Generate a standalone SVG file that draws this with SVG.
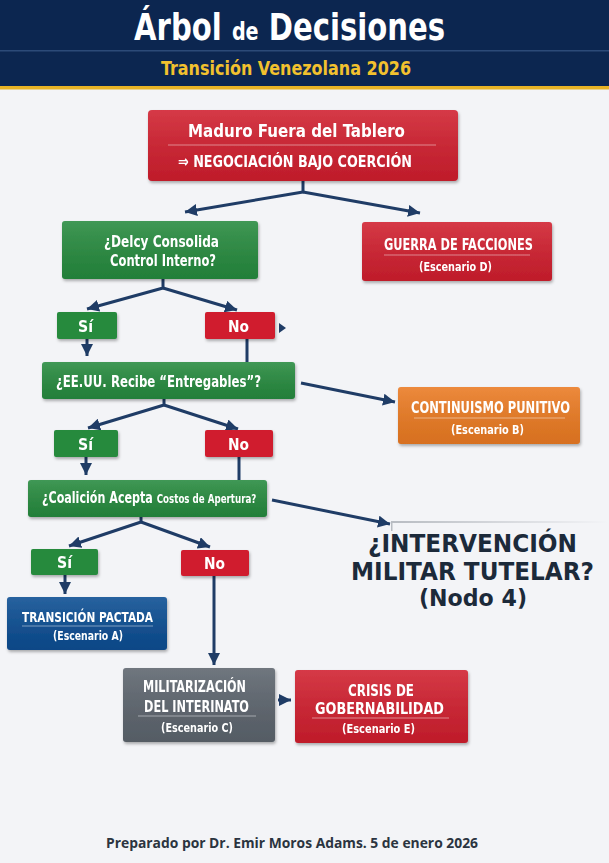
<svg xmlns="http://www.w3.org/2000/svg" width="609" height="863" viewBox="0 0 609 863">
<defs>
<filter id="sh" x="-10%" y="-10%" width="125%" height="135%"><feDropShadow dx="1" dy="2" stdDeviation="1.5" flood-color="#000" flood-opacity="0.3"/></filter>
<marker id="ah" viewBox="0 0 10 10" refX="10" refY="5" markerWidth="4" markerHeight="4" orient="auto" markerUnits="strokeWidth"><path d="M0,0 L10,5 L0,10 Z" fill="#1f3c66"/></marker>
<linearGradient id="fade" x1="0" x2="1" y1="0" y2="0"><stop offset="0" stop-color="#b8bcc2"/><stop offset="1" stop-color="#b8bcc2" stop-opacity="0"/></linearGradient>
<linearGradient id="gloss" x1="0" x2="0" y1="0" y2="1"><stop offset="0" stop-color="#fff" stop-opacity="0.12"/><stop offset="1" stop-color="#000" stop-opacity="0.08"/></linearGradient>
</defs>
<style>
.t{font-family:"DejaVu Sans Condensed","Liberation Sans",sans-serif;font-weight:bold;fill:#fff}
.red{fill:#d01f2e}.grn{fill:#268a3e}.org{fill:#ea7a22}.blu{fill:#0b4d92}.gry{fill:#5c646d}
.sep{stroke:#fff;stroke-opacity:0.45;stroke-width:1}
.c{stroke:#1f3c66;stroke-width:3;fill:none;stroke-linejoin:round}
.n4{font-family:"DejaVu Sans",sans-serif;font-weight:bold;font-size:24px;fill:#1c2a3a}
</style>
<rect width="609" height="863" fill="#f3f4f7"/>
<g id="header">
<rect width="609" height="87" fill="#0c2650"/>
<rect y="50" width="609" height="1.5" fill="#2c4a78"/>
<rect y="86" width="609" height="3.5" fill="#e8b325"/>
<text transform="translate(134,40) scale(0.852,1)" class="t" font-size="38">Árbol <tspan font-size="25">de</tspan> Decisiones</text>
<text x="161" y="75" class="t" font-size="19" textLength="250" lengthAdjust="spacingAndGlyphs" style="fill:#f2c12e">Transición Venezolana 2026</text>
</g>
<g id="connectors">
<path class="c" d="M303,181 V192 L185,212" marker-end="url(#ah)"/>
<path class="c" d="M303,192 L420,213" marker-end="url(#ah)"/>
<path class="c" d="M163,279 V288 L87,309" marker-end="url(#ah)"/>
<path class="c" d="M163,288 L237,310" marker-end="url(#ah)"/>
<path d="M279,323 L286,328 L279,333 Z" fill="#1f3c66"/>
<path class="c" d="M87,339 V356" marker-end="url(#ah)"/>
<path class="c" d="M247,339 V362"/>
<path class="c" d="M301,383 L395,402" marker-end="url(#ah)"/>
<path class="c" d="M164,399 V405 L88,428" marker-end="url(#ah)"/>
<path class="c" d="M164,405 L238,429" marker-end="url(#ah)"/>
<path class="c" d="M86,457 V475" marker-end="url(#ah)"/>
<path class="c" d="M239,457 V480"/>
<path class="c" d="M272,500 L390,524" marker-end="url(#ah)"/>
<path class="c" d="M141,517 V522 L69,546" marker-end="url(#ah)"/>
<path class="c" d="M141,522 L210,547" marker-end="url(#ah)"/>
<path class="c" d="M65,575 V594" marker-end="url(#ah)"/>
<path class="c" d="M214,576 V665" marker-end="url(#ah)"/>
<path class="c" d="M278,700 H291" marker-end="url(#ah)"/>
</g>
<g id="root" filter="url(#sh)">
<rect x="148" y="110" width="310" height="71" rx="4" class="red"/>
<rect x="148" y="110" width="310" height="71" rx="4" fill="url(#gloss)"/>
<line x1="168" y1="145" x2="436" y2="145" class="sep"/>
<text x="188" y="137" class="t" font-size="18" textLength="217" lengthAdjust="spacingAndGlyphs">Maduro Fuera del Tablero</text>
<text x="178" y="167" class="t" font-size="16" textLength="234" lengthAdjust="spacingAndGlyphs">⇒ NEGOCIACIÓN BAJO COERCIÓN</text>
</g>
<g id="delcy" filter="url(#sh)">
<rect x="62" y="221" width="196" height="58" rx="3" class="grn"/>
<rect x="62" y="221" width="196" height="58" rx="3" fill="url(#gloss)"/>
<text x="104" y="247" class="t" font-size="16" textLength="115" lengthAdjust="spacingAndGlyphs">¿Delcy Consolida</text>
<text x="110" y="266" class="t" font-size="16" textLength="106" lengthAdjust="spacingAndGlyphs">Control Interno?</text>
</g>
<g id="guerra" filter="url(#sh)">
<rect x="362" y="222" width="190" height="59" rx="3" class="red"/>
<rect x="362" y="222" width="190" height="59" rx="3" fill="url(#gloss)"/>
<line x1="384" y1="255" x2="530" y2="255" class="sep"/>
<text x="384" y="250" class="t" font-size="15" textLength="149" lengthAdjust="spacingAndGlyphs">GUERRA DE FACCIONES</text>
<text x="419" y="271" class="t" font-size="12.5" textLength="73" lengthAdjust="spacingAndGlyphs">(Escenario D)</text>
</g>
<g id="si1" filter="url(#sh)">
<rect x="57" y="312" width="60" height="27" rx="2" class="grn"/>
<text x="78" y="332" class="t" font-size="16" textLength="15" lengthAdjust="spacingAndGlyphs">Sí</text>
</g>
<g id="no1" filter="url(#sh)">
<rect x="205" y="312" width="70" height="27" rx="2" class="red"/>
<text x="228" y="332" class="t" font-size="16" textLength="21" lengthAdjust="spacingAndGlyphs">No</text>
</g>
<g id="eeuu" filter="url(#sh)">
<rect x="42" y="362" width="253" height="37" rx="3" class="grn"/>
<rect x="42" y="362" width="253" height="37" rx="3" fill="url(#gloss)"/>
<text x="56" y="387" class="t" font-size="16" textLength="205" lengthAdjust="spacingAndGlyphs">¿EE.UU. Recibe “Entregables”?</text>
</g>
<g id="continuismo" filter="url(#sh)">
<rect x="398" y="387" width="182" height="57" rx="3" class="org"/>
<rect x="398" y="387" width="182" height="57" rx="3" fill="url(#gloss)"/>
<line x1="414" y1="418" x2="565" y2="418" class="sep"/>
<text x="411" y="413" class="t" font-size="15" textLength="159" lengthAdjust="spacingAndGlyphs">CONTINUISMO PUNITIVO</text>
<text x="451" y="434" class="t" font-size="12.5" textLength="73" lengthAdjust="spacingAndGlyphs">(Escenario B)</text>
</g>
<g id="si2" filter="url(#sh)">
<rect x="54" y="430" width="64" height="27" rx="2" class="grn"/>
<text x="78" y="450" class="t" font-size="16" textLength="15" lengthAdjust="spacingAndGlyphs">Sí</text>
</g>
<g id="no2" filter="url(#sh)">
<rect x="205" y="430" width="68" height="27" rx="2" class="red"/>
<text x="228" y="450" class="t" font-size="16" textLength="21" lengthAdjust="spacingAndGlyphs">No</text>
</g>
<g id="coalicion" filter="url(#sh)">
<rect x="28" y="480" width="239" height="37" rx="3" class="grn"/>
<rect x="28" y="480" width="239" height="37" rx="3" fill="url(#gloss)"/>
<text transform="translate(42,503) scale(0.774,1)" class="t" font-size="16">¿Coalición Acepta <tspan font-size="12.5">Costos de Apertura?</tspan></text>
</g>
<g id="nodo4">
<rect x="392" y="521" width="217" height="2" fill="url(#fade)"/>
<rect x="391" y="521" width="1.5" height="10" fill="#b8bcc2"/>
<text x="368" y="552" class="n4" textLength="209" lengthAdjust="spacingAndGlyphs">¿INTERVENCIÓN</text>
<text x="351" y="580" class="n4" textLength="243" lengthAdjust="spacingAndGlyphs">MILITAR TUTELAR?</text>
<text x="419" y="606" class="n4" style="font-size:23px" textLength="108" lengthAdjust="spacingAndGlyphs">(Nodo 4)</text>
</g>
<g id="si3" filter="url(#sh)">
<rect x="31" y="549" width="67" height="26" rx="2" class="grn"/>
<text x="57" y="568" class="t" font-size="16" textLength="15" lengthAdjust="spacingAndGlyphs">Sí</text>
</g>
<g id="no3" filter="url(#sh)">
<rect x="181" y="550" width="68" height="26" rx="2" class="red"/>
<text x="204" y="569" class="t" font-size="16" textLength="21" lengthAdjust="spacingAndGlyphs">No</text>
</g>
<g id="pactada" filter="url(#sh)">
<rect x="7" y="597" width="160" height="53" rx="3" class="blu"/>
<rect x="7" y="597" width="160" height="53" rx="3" fill="url(#gloss)"/>
<line x1="22" y1="626" x2="153" y2="626" class="sep"/>
<text x="22" y="622" class="t" font-size="14.5" textLength="131" lengthAdjust="spacingAndGlyphs">TRANSICIÓN PACTADA</text>
<text x="53" y="640" class="t" font-size="12.5" textLength="70" lengthAdjust="spacingAndGlyphs">(Escenario A)</text>
</g>
<g id="militarizacion" filter="url(#sh)">
<rect x="123" y="668" width="152" height="74" rx="3" class="gry"/>
<rect x="123" y="668" width="152" height="74" rx="3" fill="url(#gloss)"/>
<line x1="138" y1="716" x2="256" y2="716" class="sep"/>
<text x="143" y="692" class="t" font-size="15" textLength="103" lengthAdjust="spacingAndGlyphs">MILITARIZACIÓN</text>
<text x="144" y="712" class="t" font-size="15" textLength="105" lengthAdjust="spacingAndGlyphs">DEL INTERINATO</text>
<text x="161" y="732" class="t" font-size="12.5" textLength="72" lengthAdjust="spacingAndGlyphs">(Escenario C)</text>
</g>
<g id="crisis" filter="url(#sh)">
<rect x="295" y="670" width="173" height="73" rx="3" class="red"/>
<rect x="295" y="670" width="173" height="73" rx="3" fill="url(#gloss)"/>
<line x1="312" y1="718" x2="449" y2="718" class="sep"/>
<text x="348" y="696" class="t" font-size="16" textLength="66" lengthAdjust="spacingAndGlyphs">CRISIS DE</text>
<text x="315" y="714" class="t" font-size="16" textLength="129" lengthAdjust="spacingAndGlyphs">GOBERNABILIDAD</text>
<text x="342" y="733" class="t" font-size="12.5" textLength="73" lengthAdjust="spacingAndGlyphs">(Escenario E)</text>
</g>
<g id="footer">
<text x="106" y="848" font-family="'Open Sans','Noto Sans',sans-serif" font-weight="bold" font-size="14" fill="#2b3440" textLength="372" lengthAdjust="spacingAndGlyphs">Preparado por Dr. Emir Moros Adams. 5 de enero 2026</text>
</g>
</svg>
